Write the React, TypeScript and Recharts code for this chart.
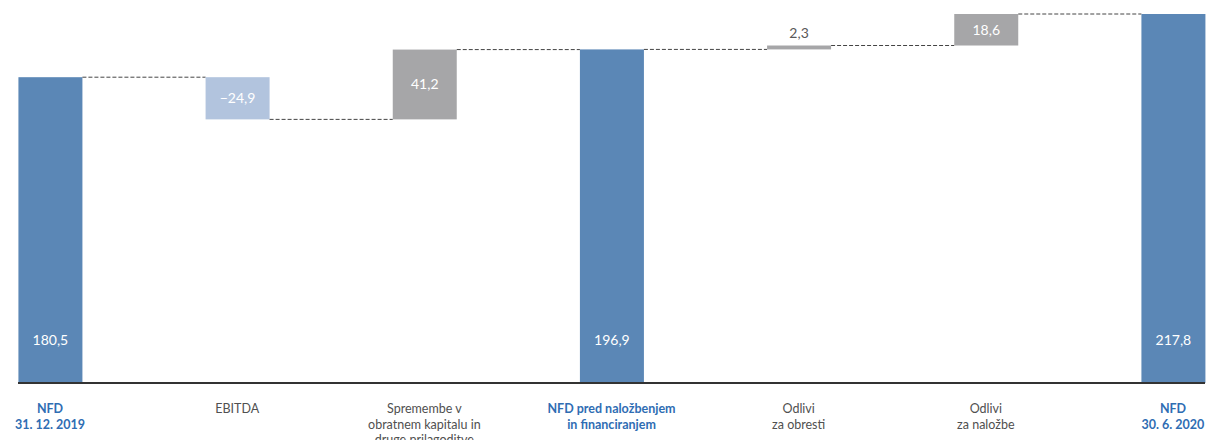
import { BarChart, Bar, XAxis, YAxis, LabelList } from "recharts";

const categories = [
  ["NFD", "31. 12. 2019"],
  ["EBITDA"],
  ["Spremembe v", "obratnem kapitalu in", "druge prilagoditve"],
  ["NFD pred naložbenjem", "in financiranjem"],
  ["Odlivi", "za obresti"],
  ["Odlivi", "za naložbe"],
  ["NFD", "30. 6. 2020"],
];
const values = [180.5, -24.9, 41.2, 196.9, 2.3, 18.6, 217.8];
const kinds = ["total", "delta", "delta", "total", "delta", "delta", "total"];
const valueLabels = ["180,5", "−24,9", "41,2", "196,9", "2,3", "18,6", "217,8"];

const W = 1209;
const H = 440;
const AXIS_H = 30;
const M = { top: 14, right: 4, bottom: 57 - AXIS_H, left: 18 };
const BAR = 64;
const STEP = (W - M.left - M.right - BAR) / (values.length - 1);

const BLUE = "#5b87b6";
const LIGHT = "#b2c4de";
const GREY = "#a6a6a8";

let running = 0;
const data = values.map((v, i) => {
  let base = 0;
  let span = v;
  if (kinds[i] === "total") {
    running = v;
  } else if (v < 0) {
    base = running + v;
    span = -v;
    running += v;
  } else {
    base = running;
    running += v;
  }
  return { idx: i, base, span, value: v, kind: kinds[i], label: valueLabels[i] };
});

const StepShape = (props: any) => {
  const { x, y, width, height, payload, index } = props;
  const fill = payload.kind === "total" ? BLUE : payload.value < 0 ? LIGHT : GREY;
  const lineY = payload.value < 0 && payload.kind !== "total" ? y + height : y;
  const last = index === values.length - 1;
  return (
    <g>
      <rect x={x} y={y} width={width} height={height} fill={fill} />
      {!last && (
        <line
          x1={x + width}
          x2={x + STEP}
          y1={lineY}
          y2={lineY}
          stroke="#444"
          strokeWidth={1}
          strokeDasharray="4 2"
        />
      )}
    </g>
  );
};

const ValueLabel = (props: any) => {
  const { x, y, width, height, index } = props;
  const d = data[index];
  const cx = x + width / 2;
  let ty = y + height / 2 + 5;
  let color = "#ffffff";
  if (d.kind === "total") {
    ty = y + height - 38;
  } else if (height < 20) {
    ty = y - 8;
    color = "#595959";
  }
  return (
    <text x={cx} y={ty} textAnchor="middle" fill={color} fontSize={14} fontFamily="Lato, sans-serif">
      {d.label}
    </text>
  );
};

const Tick = (props: any) => {
  const { x, y, payload } = props;
  const i = payload.value;
  const total = kinds[i] === "total";
  return (
    <text
      x={x}
      y={y}
      textAnchor="middle"
      fill={total ? "#2f6db3" : "#505050"}
      fontWeight={total ? 700 : 400}
      fontSize={12.5}
      fontFamily="Lato, sans-serif"
    >
      {categories[i].map((l, k) => (
        <tspan key={k} x={x} dy={k === 0 ? 22 : 15.5}>
          {l}
        </tspan>
      ))}
    </text>
  );
};

export default function App() {
  return (
    <div style={{ position: "absolute", left: 0, top: 0, width: W, height: H, background: "#fff" }}>
      <BarChart width={W} height={H} data={data} margin={M}>
        <XAxis
          type="number"
          dataKey="idx"
          height={AXIS_H}
          domain={[0, values.length - 1]}
          ticks={values.map((_, i) => i)}
          padding={{ left: BAR / 2, right: BAR / 2 }}
          tick={<Tick />}
          tickLine={false}
          axisLine={{ stroke: "#333", strokeWidth: 2 }}
          interval={0}
        />
        <YAxis hide domain={[0, 217.8]} />
        <Bar dataKey="base" stackId="w" fill="transparent" barSize={BAR} isAnimationActive={false} />
        <Bar dataKey="span" stackId="w" barSize={BAR} shape={<StepShape />} isAnimationActive={false}>
          <LabelList dataKey="label" content={<ValueLabel />} />
        </Bar>
      </BarChart>
    </div>
  );
}
